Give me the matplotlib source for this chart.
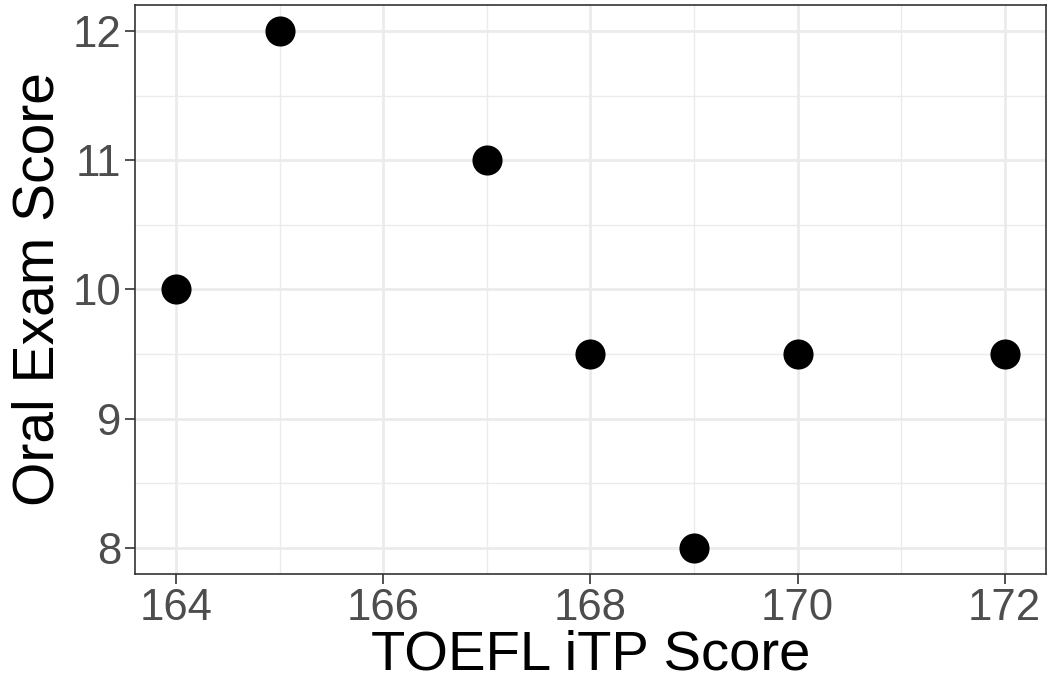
import matplotlib.pyplot as plt
from matplotlib.ticker import MultipleLocator

toefl = [164, 165, 167, 168, 169, 170, 172]
oral = [10, 12, 11, 9.5, 8, 9.5, 9.5]

plt.rcParams['font.family'] = ['Liberation Sans', 'DejaVu Sans']

fig = plt.figure(figsize=(10.48, 6.81), dpi=100)
ax = fig.add_axes([135 / 1048, 107 / 681, 911 / 1048, 569 / 681])

ax.scatter(toefl, oral, s=470, color='black', zorder=3, linewidths=0)

xr = max(toefl) - min(toefl)
yr = max(oral) - min(oral)
ax.set_xlim(min(toefl) - 0.05 * xr, max(toefl) + 0.05 * xr)
ax.set_ylim(min(oral) - 0.05 * yr, max(oral) + 0.05 * yr)

ax.xaxis.set_major_locator(MultipleLocator(2))
ax.xaxis.set_minor_locator(MultipleLocator(1))
ax.yaxis.set_major_locator(MultipleLocator(1))
ax.yaxis.set_minor_locator(MultipleLocator(0.5))

ax.grid(which='major', color='#EBEBEB', linewidth=2.0, zorder=0)
ax.grid(which='minor', color='#EBEBEB', linewidth=1.0, zorder=0)
ax.set_axisbelow(True)

for sp in ax.spines.values():
    sp.set_color('#333333')
    sp.set_linewidth(1.2)

ax.tick_params(which='major', length=7, width=1.2, color='#333333',
               labelsize=31.5, labelcolor='#4D4D4D', pad=3)
ax.tick_params(which='minor', length=0)

ax.set_xlabel('TOEFL iTP Score', fontsize=40.5, color='black', labelpad=0.5)
ax.set_ylabel('Oral Exam Score', fontsize=41, color='black', labelpad=5)

fig.savefig('out.png', dpi=100)
